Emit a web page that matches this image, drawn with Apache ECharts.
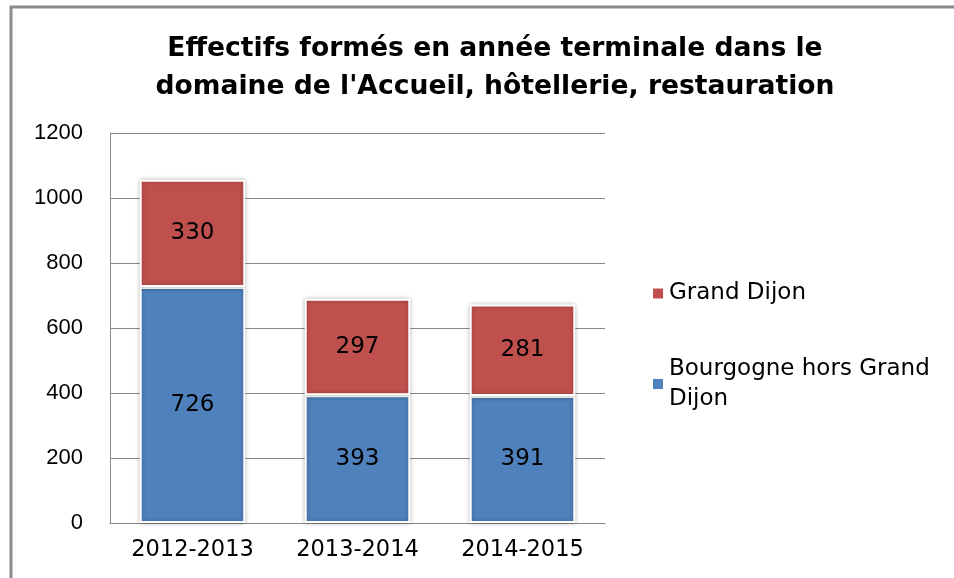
<!DOCTYPE html>
<html>
<head>
<meta charset="utf-8">
<script src="https://cdn.jsdelivr.net/npm/echarts@6/dist/echarts.min.js"></script>
<style>
  html, body { margin: 0; padding: 0; background: #fff; }
  #chart { width: 954px; height: 578px; }
</style>
</head>
<body>
<div id="chart"></div>
<script>
const years = ['2012-2013', '2013-2014', '2014-2015'];
const bourgogne = [726, 393, 391];
const grandDijon = [330, 297, 281];
const seriesNames = ['Bourgogne hors Grand Dijon', 'Grand Dijon'];

// wide sans for most text, Arial-like for the value axis
const FONT = '"DejaVu Sans", sans-serif';
const AXIS_FONT = '"Liberation Sans", Arial, sans-serif';

const chart = echarts.init(document.getElementById('chart'));

const barStyle = (color) => ({
    color: color,
    borderColor: '#fff',
    borderWidth: 2,
    shadowBlur: 4,
    shadowColor: 'rgba(0,0,0,0.3)'
});

const label = {
    show: true,
    position: 'inside',
    color: '#000',
    fontFamily: FONT,
    fontSize: 23
};

chart.setOption({
    animation: false,
    graphic: [{
        type: 'rect',
        shape: { x: 11, y: 7, width: 1000, height: 620 },
        style: { fill: 'none', stroke: '#8c8c8c', lineWidth: 3 },
        silent: true
    }],
    title: {
        text: "Effectifs formés en année terminale dans le\ndomaine de l'Accueil, hôtellerie, restauration",
        left: 490,
        textAlign: 'center',
        top: 25,
        textStyle: {
            fontFamily: FONT,
            fontWeight: 'bold',
            fontSize: 26.6,
            lineHeight: 38,
            color: '#000'
        }
    },
    legend: [{
        data: [seriesNames[1]],
        orient: 'vertical',
        left: 651,
        top: 282,
        padding: 0,
        icon: 'rect',
        itemWidth: 12,
        itemHeight: 12,
        itemGap: 5,
        textStyle: { fontFamily: FONT, fontSize: 23, color: '#000' }
    }, {
        data: [seriesNames[0]],
        orient: 'vertical',
        left: 651,
        top: 339,
        padding: 0,
        icon: 'rect',
        itemWidth: 12,
        itemHeight: 12,
        formatter: () => 'Bourgogne hors Grand\nDijon',
        textStyle: {
            fontFamily: FONT, fontSize: 23, color: '#000',
            lineHeight: 30, padding: [30, 0, 0, 0]
        }
    }],
    grid: { left: 110, top: 133, width: 495, height: 390 },
    xAxis: {
        type: 'category',
        data: years,
        axisLine: { lineStyle: { color: '#888', width: 1 } },
        axisTick: { show: false },
        axisLabel: { color: '#000', fontFamily: FONT, fontSize: 22.5, margin: 16 }
    },
    yAxis: {
        type: 'value',
        min: 0,
        max: 1200,
        interval: 200,
        axisLine: { show: true, lineStyle: { color: '#888', width: 1 } },
        axisTick: { show: false },
        axisLabel: {
            color: '#000', fontFamily: AXIS_FONT, fontSize: 22, margin: 27,
            formatter: (v) => String(v)
        },
        splitLine: { lineStyle: { color: '#8a8a8a', width: 1 } }
    },
    series: [{
        name: seriesNames[0],
        type: 'bar',
        stack: 'total',
        barWidth: '64%',
        data: bourgogne,
        itemStyle: barStyle('#4f81bd'),
        label: label
    }, {
        name: seriesNames[1],
        type: 'bar',
        stack: 'total',
        barWidth: '64%',
        data: grandDijon,
        itemStyle: barStyle('#c0504d'),
        label: label
    }]
});
</script>
</body>
</html>
